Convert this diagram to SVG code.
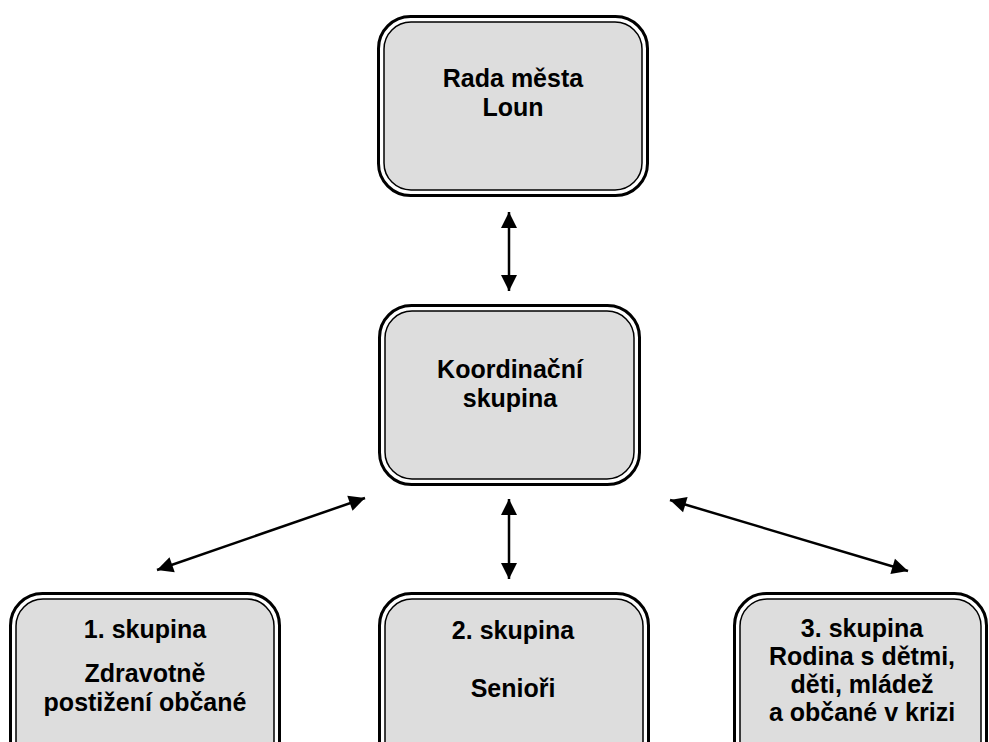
<svg xmlns="http://www.w3.org/2000/svg" width="989" height="742" viewBox="0 0 989 742">
  <style>
    .outer { fill: #ffffff; stroke: #000000; stroke-width: 3; }
    .inner { fill: #dddddd; stroke: #000000; stroke-width: 1.5; }
    .lbl { font-family: "Liberation Sans", Arial, sans-serif; font-weight: bold; font-size: 25px; fill: #000000; text-anchor: middle; }
    .conn { stroke: #000000; stroke-width: 2.5; fill: none; marker-start: url(#arrS); marker-end: url(#arrE); }
  </style>
  <defs>
    <marker id="arrE" markerUnits="userSpaceOnUse" markerWidth="18" markerHeight="18" viewBox="0 0 18 18" refX="17" refY="9" orient="auto">
      <path d="M1,1 L17,9 L1,17 Z" fill="#000000"/>
    </marker>
    <marker id="arrS" markerUnits="userSpaceOnUse" markerWidth="18" markerHeight="18" viewBox="0 0 18 18" refX="1" refY="9" orient="auto">
      <path d="M17,1 L1,9 L17,17 Z" fill="#000000"/>
    </marker>
  </defs>
  <rect width="989" height="742" fill="#ffffff"/>

  <g id="connectors">
    <line class="conn" x1="509" y1="212" x2="509" y2="291"/>
    <line class="conn" x1="365" y1="498" x2="157" y2="570"/>
    <line class="conn" x1="509" y1="499" x2="509" y2="579"/>
    <line class="conn" x1="670" y1="500" x2="908" y2="571"/>
  </g>

  <g id="rada">
    <rect class="outer" x="378.5" y="16.5" width="269" height="179" rx="32"/>
    <rect class="inner" x="384" y="22" width="258" height="168" rx="27"/>
    <text class="lbl" x="513" y="87">Rada města</text>
    <text class="lbl" x="513" y="116">Loun</text>
  </g>

  <g id="koordinacni">
    <rect class="outer" x="379.5" y="305.5" width="260" height="179" rx="32"/>
    <rect class="inner" x="385" y="311" width="249" height="168" rx="27"/>
    <text class="lbl" x="510" y="378">Koordinační</text>
    <text class="lbl" x="510" y="407">skupina</text>
  </g>

  <g id="skupina1">
    <rect class="outer" x="10.5" y="593.5" width="269" height="180" rx="32"/>
    <rect class="inner" x="16" y="599" width="258" height="169" rx="27"/>
    <text class="lbl" x="145" y="638">1. skupina</text>
    <text class="lbl" x="145" y="682">Zdravotně</text>
    <text class="lbl" x="145" y="711">postižení občané</text>
  </g>

  <g id="skupina2">
    <rect class="outer" x="379.5" y="593.5" width="269" height="180" rx="32"/>
    <rect class="inner" x="385" y="599" width="258" height="169" rx="27"/>
    <text class="lbl" x="513" y="639">2. skupina</text>
    <text class="lbl" x="513" y="697">Senioři</text>
  </g>

  <g id="skupina3">
    <rect class="outer" x="734.5" y="593.5" width="252" height="180" rx="32"/>
    <rect class="inner" x="740" y="599" width="241" height="169" rx="27"/>
    <text class="lbl" x="862" y="637">3. skupina</text>
    <text class="lbl" x="862" y="665">Rodina s dětmi,</text>
    <text class="lbl" x="862" y="693">děti, mládež</text>
    <text class="lbl" x="862" y="721">a občané v krizi</text>
  </g>
</svg>
